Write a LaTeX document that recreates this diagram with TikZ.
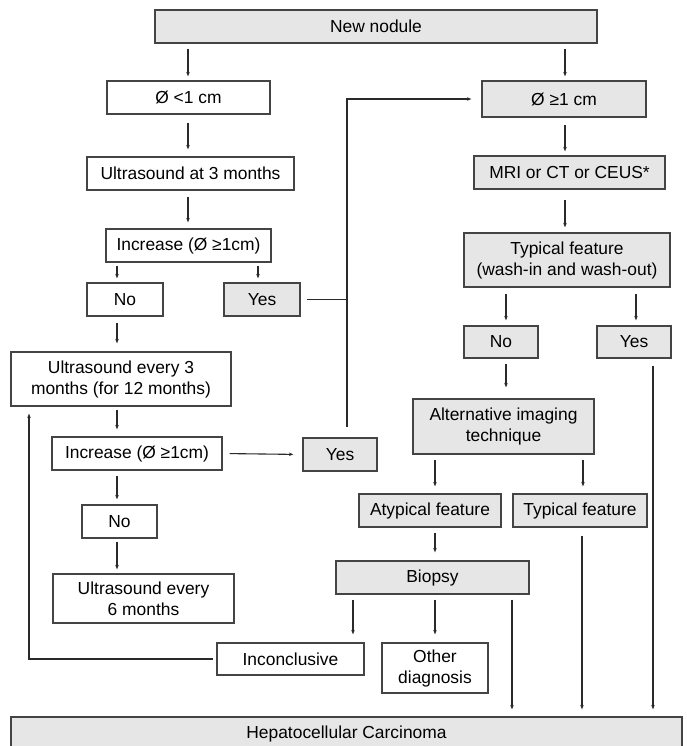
\documentclass[tikz,border=0pt]{standalone}
\usepackage{fontspec}
\setmainfont{Liberation Sans}
\usetikzlibrary{arrows.meta,calc}
\definecolor{boxgray}{HTML}{E6E6E6}
\definecolor{edgec}{HTML}{444444}
\definecolor{linec}{HTML}{2A2A2A}
\begin{document}
\begin{tikzpicture}[x=1pt,y=-1pt,
  font=\fontsize{17.4}{21}\selectfont,
  box/.style={draw=edgec, line width=1.3pt, inner sep=0pt, align=center, text=black},
  wbox/.style={box, fill=white},
  gbox/.style={box, fill=boxgray},
  arr/.style={draw=linec, line width=1.1pt, -{Stealth[length=4.5pt,width=3.5pt]}},
  ln/.style={draw=linec, line width=1.1pt}]
\fill[white] (0,0) rectangle (686,746);
\useasboundingbox (0,0) rectangle (686,746);
% column coordinates
\coordinate (xA) at (188,0);
\coordinate (xB) at (565,0);
\coordinate (xL) at (117,0);
\coordinate (xY) at (258,0);
\coordinate (xV) at (347,0);
\coordinate (xN) at (506,0);
\coordinate (xR) at (636,0);
\coordinate (xP) at (435,0);
\coordinate (xQ) at (583,0);
\coordinate (xI) at (353,0);
\coordinate (xH1) at (512,0);
\coordinate (xH2) at (582,0);
\coordinate (xH3) at (653,0);
\coordinate (xLoop) at (29,0);
% nodes
\node[gbox, minimum width=442pt, minimum height=33pt] (new) at (376,26.5) {New nodule};
\node[wbox, minimum width=163pt, minimum height=33pt] (lt) at (188.5,97.5) {Ø <1 cm};
\node[gbox, minimum width=164pt, minimum height=36pt] (ge) at (564,99) {Ø ≥1 cm};
\node[wbox, minimum width=207pt, minimum height=33pt] (us3) at (190.5,173.5) {Ultrasound at 3 months};
\node[gbox, minimum width=191pt, minimum height=33pt] (mri) at (569.5,172.5) {MRI or CT or CEUS*};
\node[wbox, minimum width=165pt, minimum height=33pt] (inc1) at (188.5,245.5) {Increase (Ø ≥1cm)};
\node[gbox, minimum width=206pt, minimum height=54pt] (typ) at (567,260) {Typical feature\\(wash-in and wash-out)};
\node[wbox, minimum width=76pt, minimum height=33pt] (no1) at (125,299.5) {No};
\node[gbox, minimum width=76pt, minimum height=33pt] (yes1) at (262,299.5) {Yes};
\node[gbox, minimum width=74pt, minimum height=32pt] (no2) at (501,342) {No};
\node[gbox, minimum width=74pt, minimum height=32pt] (yes2) at (634,342) {Yes};
\node[wbox, minimum width=220pt, minimum height=54pt] (us12) at (121,379) {Ultrasound every 3\\months (for 12 months)};
\node[gbox, minimum width=181pt, minimum height=55pt] (alt) at (503.5,426.5) {Alternative imaging\\technique};
\node[wbox, minimum width=170pt, minimum height=33pt] (inc2) at (137,453.5) {Increase (Ø ≥1cm)};
\node[gbox, minimum width=74pt, minimum height=33pt] (yes3) at (340,454.5) {Yes};
\node[gbox, minimum width=142pt, minimum height=33pt] (atyp) at (430,510.5) {Atypical feature};
\node[gbox, minimum width=134pt, minimum height=33pt] (typ2) at (580,510.5) {Typical feature};
\node[wbox, minimum width=75pt, minimum height=33pt] (no3) at (119.5,521.5) {No};
\node[gbox, minimum width=193pt, minimum height=33pt] (bio) at (432.5,577.5) {Biopsy};
\node[wbox, minimum width=181pt, minimum height=49pt] (us6) at (143.5,598.5) {Ultrasound every\\6 months};
\node[wbox, minimum width=147pt, minimum height=32pt] (inc) at (290.5,659) {Inconclusive};
\node[wbox, minimum width=106pt, minimum height=50pt] (oth) at (435,668) {Other\\diagnosis};
\node[gbox, minimum width=671pt, minimum height=34pt] (hcc) at (346.5,734) {Hepatocellular Carcinoma};
% connectors
\draw[arr, shorten <=5pt, shorten >=4pt] (new.south -| xA) -- (lt.north -| xA);
\draw[arr, shorten <=5pt, shorten >=4pt] (new.south -| xB) -- (ge.north -| xB);
\draw[arr, shorten <=8pt, shorten >=7pt] (lt.south -| xA) -- (us3.north -| xA);
\draw[arr, shorten <=7pt, shorten >=4pt] (ge.south -| xB) -- (mri.north -| xB);
\draw[arr, shorten <=6pt, shorten >=6pt] (us3.south -| xA) -- (inc1.north -| xA);
\draw[arr, shorten <=10pt, shorten >=5pt] (mri.south -| xB) -- (typ.north -| xB);
\draw[arr, shorten <=3pt, shorten >=4pt] (inc1.south -| xL) -- (no1.north -| xL);
\draw[arr, shorten <=3pt, shorten >=4pt] (inc1.south -| xY) -- (yes1.north -| xY);
\draw[ln, shorten <=6pt] (yes1.east) -- (yes1.east -| xV);
\draw[arr, shorten <=10pt, shorten >=10pt] (yes3.north -| xV) |- (ge.west);
\draw[arr, shorten <=6pt, shorten >=5pt] (typ.south -| xN) -- (no2.north -| xN);
\draw[arr, shorten <=6pt, shorten >=5pt] (typ.south -| xR) -- (yes2.north -| xR);
\draw[arr, shorten <=6pt, shorten >=8pt] (no1.south -| xL) -- (us12.north -| xL);
\draw[arr, shorten <=5pt, shorten >=11pt] (no2.south -| xN) -- (alt.north -| xN);
\draw[arr, shorten <=3pt, shorten >=7pt] (us12.south -| xL) -- (inc2.north -| xL);
\draw[arr, shorten <=7pt, shorten >=9pt] (inc2.east) -- (yes3.west);
\draw[arr, shorten <=5pt, shorten >=7pt] (alt.south -| xP) -- (atyp.north -| xP);
\draw[arr, shorten <=5pt, shorten >=7pt] (alt.south -| xQ) -- (typ2.north -| xQ);
\draw[arr, shorten <=5pt, shorten >=5pt] (inc2.south -| xL) -- (no3.north -| xL);
\draw[arr, shorten <=3pt, shorten >=4pt] (no3.south -| xL) -- (us6.north -| xL);
\draw[arr, shorten <=5pt, shorten >=8pt] (atyp.south -| xP) -- (bio.north -| xP);
\draw[arr, shorten <=5pt, shorten >=8pt] (bio.south -| xI) -- (inc.north -| xI);
\draw[arr, shorten <=5pt, shorten >=8pt] (bio.south -| xP) -- (oth.north -| xP);
\draw[arr, shorten <=5pt, shorten >=7pt] (bio.south -| xH1) -- (hcc.north -| xH1);
\draw[arr, shorten <=8pt, shorten >=7pt] (typ2.south -| xH2) -- (hcc.north -| xH2);
\draw[arr, shorten <=7pt, shorten >=7pt] (yes2.south -| xH3) -- (hcc.north -| xH3);
\draw[arr, shorten <=3pt, shorten >=7pt] (inc.west) -| (us12.south -| xLoop);
\end{tikzpicture}
\end{document}
